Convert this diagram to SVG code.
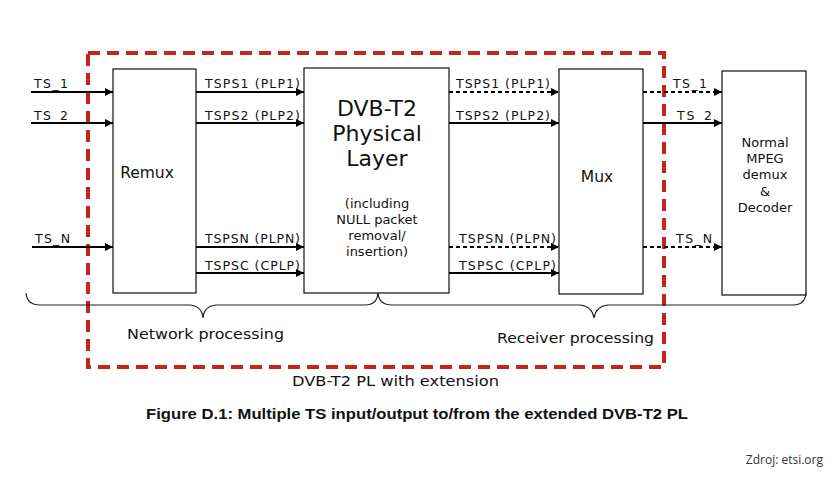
<svg xmlns="http://www.w3.org/2000/svg" width="840" height="480" viewBox="0 0 840 480">
<style>
.box{fill:#fff;stroke:#222;stroke-width:1.3}
.ln{stroke:#000;stroke-width:2;fill:none}
.dash{stroke-dasharray:4 3}
.lbl{font-family:"DejaVu Sans",Verdana,sans-serif;font-size:12.5px;fill:#111}
.t{font-family:"DejaVu Sans",Verdana,sans-serif;fill:#111;text-anchor:middle}
.brace{fill:none;stroke:#222;stroke-width:1.2}
</style>
<defs>
<marker id="ah" markerWidth="8" markerHeight="8" refX="8" refY="4" orient="auto" markerUnits="userSpaceOnUse">
<path d="M0,0 L8,4 L0,8 Z" fill="#000"/>
</marker>
</defs>
<rect width="840" height="480" fill="#fff"/>
<rect id="ext" x="88" y="53" width="576" height="314" fill="none" stroke="#c4261a" stroke-width="4" stroke-dasharray="12 7"/>
<g id="remux"><rect class="box" x="113" y="69" width="83" height="224"/><text class="t" x="147" y="178" font-size="15.5">Remux</text></g>
<g id="dvbt2"><rect class="box" x="304" y="68" width="145" height="225"/>
<text class="t" x="377" y="116" font-size="22">DVB-T2</text>
<text class="t" x="377" y="141" font-size="22">Physical</text>
<text class="t" x="377" y="166" font-size="22">Layer</text>
<text class="t" x="377" y="208" font-size="13">(including</text>
<text class="t" x="377" y="224" font-size="13">NULL packet</text>
<text class="t" x="377" y="240" font-size="13">removal/</text>
<text class="t" x="377" y="256" font-size="13">insertion)</text></g>
<g id="mux"><rect class="box" x="559" y="69" width="84" height="225"/><text class="t" x="597" y="182" font-size="15.5">Mux</text></g>
<g id="decoder"><rect class="box" x="722" y="71" width="84" height="224"/>
<text class="t" x="765" y="147" font-size="13">Normal</text>
<text class="t" x="765" y="163" font-size="13">MPEG</text>
<text class="t" x="765" y="179" font-size="13">demux</text>
<text class="t" x="765" y="196" font-size="13">&amp;</text>
<text class="t" x="765" y="212" font-size="13">Decoder</text></g>
<g id="connectors">
<line class="ln" x1="31" y1="92" x2="113" y2="92" marker-end="url(#ah)"/>
<line class="ln" x1="31" y1="123" x2="113" y2="123" marker-end="url(#ah)"/>
<line class="ln" x1="32" y1="247" x2="113" y2="247" marker-end="url(#ah)"/>
<line class="ln" x1="196" y1="92" x2="304" y2="92" marker-end="url(#ah)"/>
<line class="ln" x1="196" y1="123" x2="304" y2="123" marker-end="url(#ah)"/>
<line class="ln" x1="196" y1="247" x2="304" y2="247" marker-end="url(#ah)"/>
<line class="ln" x1="196" y1="273" x2="304" y2="273" marker-end="url(#ah)"/>
<line class="ln dash" x1="449" y1="92" x2="559" y2="92" marker-end="url(#ah)"/>
<line class="ln" x1="449" y1="123" x2="559" y2="123" marker-end="url(#ah)"/>
<line class="ln dash" x1="449" y1="247" x2="559" y2="247" marker-end="url(#ah)"/>
<line class="ln" x1="449" y1="273" x2="559" y2="273" marker-end="url(#ah)"/>
<line class="ln dash" x1="643" y1="92" x2="722" y2="92" marker-end="url(#ah)"/>
<line class="ln" x1="643" y1="123" x2="722" y2="123" marker-end="url(#ah)"/>
<line class="ln dash" x1="643" y1="247" x2="722" y2="247" marker-end="url(#ah)"/>
<text class="lbl" x="34" y="88" textLength="34" lengthAdjust="spacing">TS_1</text>
<text class="lbl" x="34" y="120" textLength="34" lengthAdjust="spacing">TS_2</text>
<text class="lbl" x="35" y="243" textLength="35" lengthAdjust="spacing">TS_N</text>
<text class="lbl" x="205" y="88" textLength="95" lengthAdjust="spacing">TSPS1 (PLP1)</text>
<text class="lbl" x="205" y="120" textLength="95" lengthAdjust="spacing">TSPS2 (PLP2)</text>
<text class="lbl" x="205" y="243" textLength="95" lengthAdjust="spacing">TSPSN (PLPN)</text>
<text class="lbl" x="205" y="270" textLength="95" lengthAdjust="spacing">TSPSC (CPLP)</text>
<text class="lbl" x="456" y="88" textLength="94" lengthAdjust="spacing">TSPS1 (PLP1)</text>
<text class="lbl" x="456" y="120" textLength="94" lengthAdjust="spacing">TSPS2 (PLP2)</text>
<text class="lbl" x="459" y="243" textLength="97" lengthAdjust="spacing">TSPSN (PLPN)</text>
<text class="lbl" x="459" y="270" textLength="97" lengthAdjust="spacing">TSPSC (CPLP)</text>
<text class="lbl" x="673" y="88" textLength="34" lengthAdjust="spacing">TS_1</text>
<text class="lbl" x="677" y="120" textLength="35" lengthAdjust="spacing">TS_2</text>
<text class="lbl" x="676" y="243" textLength="36" lengthAdjust="spacing">TS_N</text>
</g>
<path class="brace" d="M26,293 Q27,305 40,305 L190,305 Q202,306 203,318 Q204,306 216,305 L365,305 Q377,305 378,293"/>
<path class="brace" d="M378,293 Q379,305 392,305 L580,305 Q592,306 594,318 Q596,306 608,305 L793,305 Q805,305 806,293"/>
<text x="127" y="339" font-family="'DejaVu Sans',Verdana,sans-serif" font-size="14.5" fill="#111" textLength="157" lengthAdjust="spacingAndGlyphs">Network processing</text>
<text x="497" y="343" font-family="'DejaVu Sans',Verdana,sans-serif" font-size="14.5" fill="#111" textLength="157" lengthAdjust="spacingAndGlyphs">Receiver processing</text>
<text x="292" y="386" font-family="'DejaVu Sans',Verdana,sans-serif" font-size="14.5" fill="#111" textLength="207" lengthAdjust="spacingAndGlyphs">DVB-T2 PL with extension</text>
<text x="146" y="419" font-family="'Liberation Sans',Arial,sans-serif" font-weight="bold" font-size="15.5" fill="#111" textLength="542" lengthAdjust="spacingAndGlyphs">Figure D.1: Multiple TS input/output to/from the extended DVB-T2 PL</text>
<text x="823" y="464" text-anchor="end" font-family="'Open Sans',sans-serif" font-size="12" fill="#333">Zdroj: etsi.org</text>
</svg>
